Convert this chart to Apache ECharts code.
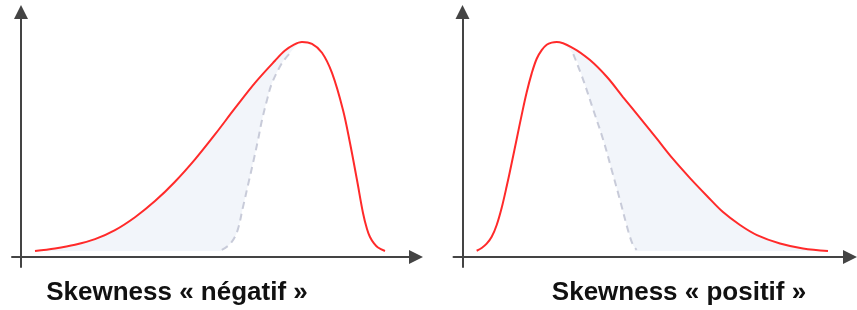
<!DOCTYPE html>
<html>
<head>
<meta charset="utf-8">
<title>Skewness</title>
<script src="https://cdn.jsdelivr.net/npm/echarts@6/dist/echarts.min.js"></script>
<style>
  html, body { margin: 0; padding: 0; background: #fff; }
  #chart { width: 857px; height: 310px; }
</style>
</head>
<body>
<div id="chart"></div>
<script>
// courbes : [x, densité]
var negRouge = [[0.35, 0.028], [0.85, 0.04], [1.35, 0.057], [1.85, 0.083], [2.35, 0.125],
  [2.85, 0.185], [3.35, 0.26], [3.85, 0.35], [4.35, 0.454], [4.85, 0.57], [5.35, 0.692],
  [5.85, 0.81], [6.35, 0.913], [6.6, 0.96], [6.825, 0.988], [7.025, 1.0], [7.275, 0.991],
  [7.525, 0.95], [7.775, 0.856], [8.05, 0.684], [8.225, 0.53], [8.4, 0.358], [8.55, 0.205],
  [8.65, 0.13], [8.725, 0.093], [8.825, 0.063], [8.925, 0.044], [9.1, 0.028]];
var negPointille = [[5.02, 0.033], [5.225, 0.06], [5.4, 0.116], [5.55, 0.233], [5.675, 0.335],
  [5.8, 0.437], [5.925, 0.544], [6.025, 0.637], [6.15, 0.73], [6.275, 0.809], [6.525, 0.902],
  [6.725, 0.949]];

var posRouge = [[0.354, 0.029], [0.48, 0.042], [0.605, 0.062], [0.73, 0.094], [0.855, 0.149],
  [0.98, 0.229], [1.105, 0.329], [1.23, 0.437], [1.355, 0.549], [1.48, 0.661], [1.605, 0.766],
  [1.73, 0.854], [1.855, 0.922], [1.98, 0.962], [2.105, 0.987], [2.23, 0.997], [2.355, 1.0],
  [2.7625, 0.972], [3.1875, 0.916], [3.6125, 0.837], [4.0125, 0.744], [4.4375, 0.647],
  [4.8625, 0.549], [5.2625, 0.456], [5.6875, 0.367], [6.1125, 0.284], [6.5125, 0.209],
  [6.9375, 0.149], [7.3625, 0.102], [7.9375, 0.063], [8.5125, 0.04], [9.1375, 0.028]];
var posPointille = [[2.77, 0.944], [3.02, 0.823], [3.27, 0.684], [3.52, 0.544], [3.73, 0.405],
  [3.9375, 0.265], [4.145, 0.12], [4.2625, 0.056], [4.355, 0.033]];

var titres = ['Skewness « négatif »', 'Skewness « positif »'];

var base = 0.028; // bas de la zone colorée

// zone à masquer : partie "normale" sous la courbe pointillée
var negMasque = negPointille.concat(negRouge.filter(function (p) { return p[0] > 6.9; }));
var posMasque = posRouge.filter(function (p) { return p[0] < 2.5; }).concat(posPointille);

var chart = echarts.init(document.getElementById('chart'));

function axeX(idx) {
  return {
    type: 'value', gridIndex: idx, min: -0.225, max: idx === 0 ? 9.875 : 9.6875,
    axisLine: { onZero: true, symbol: ['none', 'triangle'], symbolSize: [14, 14],
      lineStyle: { color: '#444', width: 2 } },
    axisTick: { show: false }, axisLabel: { show: false }, splitLine: { show: false }
  };
}
function axeY(idx) {
  return {
    type: 'value', gridIndex: idx, min: -0.0465, max: 1.1395,
    axisLine: { onZero: true, symbol: ['none', 'triangle'], symbolSize: [14, 14],
      lineStyle: { color: '#444', width: 2 } },
    axisTick: { show: false }, axisLabel: { show: false }, splitLine: { show: false }
  };
}
function zone(idx, data, couleur) {
  return {
    type: 'line', xAxisIndex: idx, yAxisIndex: idx, data: data, smooth: 0.35,
    showSymbol: false, silent: true, lineStyle: { opacity: 0 },
    areaStyle: { color: couleur, opacity: 1, origin: base }
  };
}
function trait(idx, data, couleur, type) {
  return {
    type: 'line', xAxisIndex: idx, yAxisIndex: idx, data: data, smooth: 0.35,
    showSymbol: false, silent: true,
    lineStyle: { color: couleur, width: 2, type: type }
  };
}
function titre(x, texte) {
  return { type: 'text', x: x, y: 293, style: { text: texte, fill: '#111',
    font: 'bold 26px "Liberation Sans", Arial, sans-serif', align: 'center', verticalAlign: 'middle' } };
}

chart.setOption({
  animation: false,
  grid: [
    { left: 12, top: 12, width: 404, height: 255 },
    { left: 453.5, top: 12, width: 396.5, height: 255 }
  ],
  xAxis: [axeX(0), axeX(1)],
  yAxis: [axeY(0), axeY(1)],
  graphic: [titre(177, titres[0]), titre(679, titres[1])],
  series: [
    zone(0, negRouge, '#f2f5fa'),
    zone(0, negMasque, '#ffffff'),
    trait(0, negPointille, '#c8cbd9', [7, 5]),
    trait(0, negRouge, '#ff2a2a', 'solid'),
    zone(1, posRouge, '#f2f5fa'),
    zone(1, posMasque, '#ffffff'),
    trait(1, posPointille, '#c8cbd9', [7, 5]),
    trait(1, posRouge, '#ff2a2a', 'solid')
  ]
});
</script>
</body>
</html>
